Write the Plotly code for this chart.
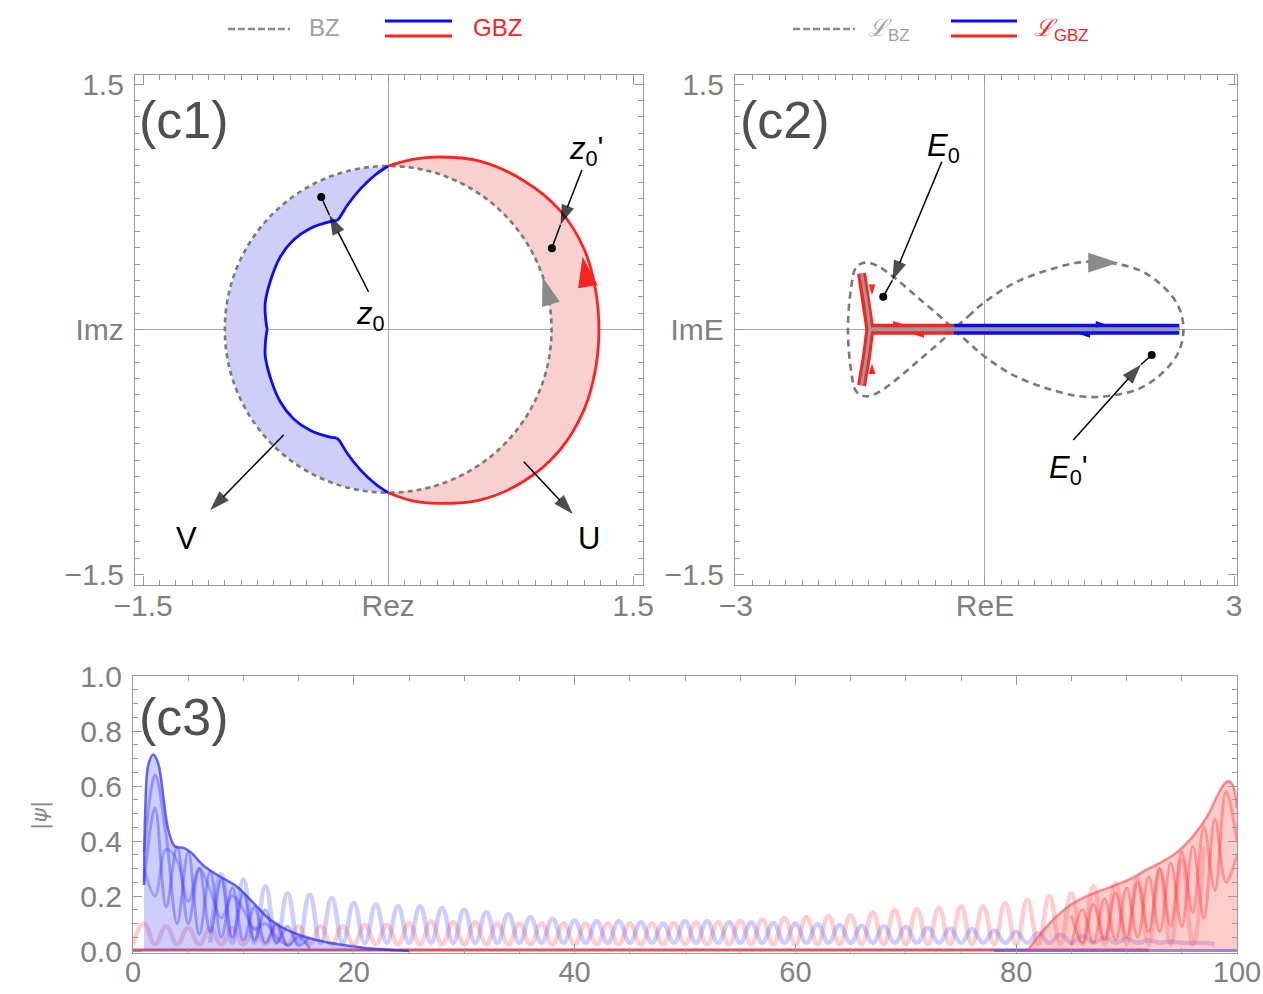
import plotly.graph_objects as go

W, H = 1263, 994


def px(x):
    return x / W


def py(y):
    return 1 - y / H


# ---------------- panel (c1): complex z plane ----------------
# BZ (unit circle), read every 10 degrees, starting at top going counter-clockwise
bz_x = [0, -0.174, -0.342, -0.5, -0.643, -0.766, -0.866, -0.940, -0.985, -1.0,
        -0.985, -0.940, -0.866, -0.766, -0.643, -0.5, -0.342, -0.174, 0,
        0.174, 0.342, 0.5, 0.643, 0.766, 0.866, 0.940, 0.985, 1.0,
        0.985, 0.940, 0.866, 0.766, 0.643, 0.5, 0.342, 0.174, 0]
bz_y = [1.0, 0.985, 0.940, 0.866, 0.766, 0.643, 0.5, 0.342, 0.174, 0,
        -0.174, -0.342, -0.5, -0.643, -0.766, -0.866, -0.940, -0.985, -1.0,
        -0.985, -0.940, -0.866, -0.766, -0.643, -0.5, -0.342, -0.174, 0,
        0.174, 0.342, 0.5, 0.643, 0.766, 0.866, 0.940, 0.985, 1.0]

# GBZ blue branch (left), four arcs separated by cusps
gbz_blue_x = [0, -0.08, -0.17, -0.25, -0.30, -0.315, None,
              -0.315, -0.355, -0.478, -0.58, -0.66, -0.72, -0.753, -0.747, -0.74, None,
              -0.74, -0.747, -0.753, -0.72, -0.66, -0.58, -0.478, -0.355, -0.315, None,
              -0.315, -0.30, -0.25, -0.17, -0.08, 0]
gbz_blue_y = [1.0, 0.945, 0.86, 0.76, 0.68, 0.665, None,
              0.665, 0.66, 0.618, 0.547, 0.445, 0.30, 0.16, 0.037, 0, None,
              0, -0.037, -0.16, -0.30, -0.445, -0.547, -0.618, -0.66, -0.665, None,
              -0.665, -0.68, -0.76, -0.86, -0.945, -1.0]

# GBZ red branch (right)
gbz_red_x = [0, 0.15, 0.30, 0.56, 0.83, 1.05, 1.20, 1.27, 1.29, 1.27, 1.20, 1.05, 0.83, 0.56, 0.30, 0.15, 0]
gbz_red_y = [1.0, 1.04, 1.055, 1.03, 0.91, 0.73, 0.49, 0.24, 0, -0.24, -0.49, -0.74, -0.93, -1.045, -1.065, -1.05, -1.0]

z0 = (-0.41, 0.81)
z0p = (1.002, 0.496)

# ---------------- panel (c2): complex E plane ----------------
lbz_x = [-0.38, -0.20, -0.02, 0.34, 0.74, 1.14, 1.46, 1.87, 2.15, 2.33, 2.39,
         2.33, 2.15, 1.87, 1.46, 1.14, 0.74, 0.34, -0.02, -0.20, -0.38,
         -0.50, -0.82, -1.10, -1.30, -1.44, -1.55, -1.61, -1.65,
         -1.61, -1.55, -1.44, -1.30, -1.10, -0.82, -0.50, -0.38]
lbz_y = [0, 0.08, 0.16, 0.28, 0.36, 0.41, 0.41, 0.36, 0.26, 0.14, 0,
         -0.14, -0.26, -0.36, -0.41, -0.41, -0.36, -0.28, -0.16, -0.08, 0,
         0.06, 0.20, 0.32, 0.39, 0.41, 0.38, 0.26, 0,
         -0.26, -0.38, -0.41, -0.39, -0.32, -0.20, -0.06, 0]

lgbz_red_arm_x = [-1.486, -1.425, -1.386, -1.425, -1.486]
lgbz_red_arm_y = [0.343, 0.16, 0, -0.16, -0.343]
lgbz_red_bar_x = [-1.386, -0.38]
lgbz_blue_bar_x = [-0.38, 2.34]

E0 = (-1.225, 0.20)
E0p = (2.008, -0.157)

# ---------------- panel (c3): |psi| vs site ----------------
blue_env_x = [1.0, 1.1, 1.4, 1.85, 2.3, 2.75, 3.2, 3.8, 4.6, 5.3, 6.4, 7.9, 9.4, 10.9, 12.4, 13.9, 15.4, 17.8, 20.9, 25.0]
blue_env_y = [0.24, 0.50, 0.68, 0.715, 0.68, 0.56, 0.44, 0.38, 0.375, 0.357, 0.31, 0.27, 0.235, 0.175, 0.115, 0.078, 0.054, 0.03, 0.012, 0.0]

blue_fan1 = [0.25, 0.52, 0.16, 0.38, 0.10, 0.30, 0.07, 0.26, 0.05, 0.21, 0.04, 0.15, 0.03, 0.09, 0.02, 0.05]
blue_fan2 = [0.36, 0.64, 0.42, 0.10, 0.36, 0.06, 0.29, 0.05, 0.23, 0.04, 0.16, 0.03, 0.10, 0.02, 0.05, 0.01]
blue_fan3 = [0.30, 0.20, 0.37, 0.33, 0.18, 0.30, 0.22, 0.12, 0.20, 0.15, 0.08, 0.10, 0.05, 0.02]

blue_peak_sites = list(range(8, 100, 2))
blue_peak_vals = [0.28, 0.26, 0.236, 0.21, 0.205, 0.193, 0.175, 0.169, 0.163, 0.163,
                  0.157, 0.151, 0.141, 0.135, 0.124, 0.117, 0.111, 0.108, 0.108, 0.105,
                  0.10, 0.108, 0.108, 0.105, 0.105, 0.102, 0.10, 0.098, 0.095, 0.092,
                  0.09, 0.088, 0.085, 0.082, 0.08, 0.075, 0.07, 0.065, 0.06, 0.055,
                  0.05, 0.045, 0.04, 0.035, 0.03, 0.025]
blue_trough = 0.03

red_peak_sites = list(range(1, 99, 2))
red_peak_vals = [0.10, 0.09, 0.085, 0.085, 0.085, 0.085, 0.085, 0.09, 0.09, 0.09,
                 0.095, 0.095, 0.10, 0.108, 0.105, 0.105, 0.10, 0.10, 0.10, 0.10,
                 0.10, 0.10, 0.10, 0.10, 0.102, 0.105, 0.105, 0.11, 0.115, 0.12,
                 0.124, 0.127, 0.13, 0.141, 0.148, 0.153, 0.157, 0.163, 0.163, 0.175,
                 0.187, 0.20, 0.21, 0.236, 0.248, 0.266, 0.296, 0.33, 0.38]
red_trough = 0.025

red_env_x = [81, 83, 85, 87, 89, 90.5, 91.8, 93, 94.5, 96, 97.3, 98.2, 98.8, 99.2, 99.6, 100]
red_env_y = [0.0, 0.10, 0.17, 0.21, 0.24, 0.265, 0.296, 0.32, 0.357, 0.417, 0.49, 0.563, 0.605, 0.617, 0.605, 0.52]
red_fan1 = [0.02, 0.15, 0.03, 0.19, 0.04, 0.23, 0.05, 0.27, 0.07, 0.32, 0.09, 0.38, 0.12, 0.48, 0.25, 0.35]
red_fan2 = [0.13, 0.03, 0.17, 0.04, 0.21, 0.05, 0.25, 0.07, 0.30, 0.09, 0.36, 0.14, 0.45, 0.22, 0.58, 0.40]

BLUE = '#0a0aff'
RED = '#ff2222'
GRAY = '#7a7a7a'

fig = go.Figure()

# ---- c1 fills ----
fig.add_trace(go.Scatter(x=bz_x[:19] + [v for v in gbz_blue_x[::-1] if v is not None],
                         y=bz_y[:19] + [v for v in gbz_blue_y[::-1] if v is not None],
                         fill='toself', fillcolor='rgb(206,206,248)', line=dict(width=0),
                         mode='lines', xaxis='x', yaxis='y', hoverinfo='skip'))
fig.add_trace(go.Scatter(x=bz_x[18:] + gbz_red_x, y=bz_y[18:] + gbz_red_y,
                         fill='toself', fillcolor='rgb(249,208,208)', line=dict(width=0),
                         mode='lines', xaxis='x', yaxis='y', hoverinfo='skip'))
fig.add_trace(go.Scatter(x=bz_x, y=bz_y, mode='lines', xaxis='x', yaxis='y',
                         line=dict(color=GRAY, width=2.6, dash='5px,4px', shape='spline')))
fig.add_trace(go.Scatter(x=gbz_blue_x, y=gbz_blue_y, mode='lines', xaxis='x', yaxis='y',
                         connectgaps=False, line=dict(color=BLUE, width=2.8, shape='spline')))
fig.add_trace(go.Scatter(x=gbz_red_x, y=gbz_red_y, mode='lines', xaxis='x', yaxis='y',
                         line=dict(color=RED, width=2.8, shape='spline')))
# direction arrows on curves
fig.add_trace(go.Scatter(x=[0.945], y=[0.32], mode='markers', xaxis='x', yaxis='y',
                         marker=dict(symbol='arrow', size=30, angle=-17, color='#8a8a8a', line=dict(width=0))))
fig.add_trace(go.Scatter(x=[1.19], y=[0.445], mode='markers', xaxis='x', yaxis='y',
                         marker=dict(symbol='arrow', size=32, angle=-10, color=RED, line=dict(width=0))))


def pointer(tail, tip, dot, xa, ya):
    fig.add_trace(go.Scatter(x=[tail[0], tip[0]], y=[tail[1], tip[1]], mode='lines+markers', xaxis=xa, yaxis=ya,
                             line=dict(color='black', width=1.5),
                             marker=dict(symbol='arrow', size=[0, 21], angleref='previous', standoff=0,
                                         color='black', line=dict(width=0))))
    if dot is not None:
        fig.add_trace(go.Scatter(x=[tip[0], dot[0]], y=[tip[1], dot[1]], mode='lines', xaxis=xa, yaxis=ya,
                                 line=dict(color='black', width=1.5)))
        fig.add_trace(go.Scatter(x=[dot[0]], y=[dot[1]], mode='markers', xaxis=xa, yaxis=ya,
                                 marker=dict(color='black', size=8)))


pointer((-0.12, 0.23), (-0.36, 0.70), z0, 'x', 'y')
pointer((1.186, 0.975), (1.055, 0.64), z0p, 'x', 'y')
pointer((-0.64, -0.647), (-1.09, -1.107), None, 'x', 'y')
pointer((0.83, -0.81), (1.13, -1.13), None, 'x', 'y')

# ---- c2 ----
fig.add_trace(go.Scatter(x=lbz_x, y=lbz_y, mode='lines', xaxis='x2', yaxis='y2',
                         line=dict(color=GRAY, width=2.6, dash='7px,5px', shape='spline')))
fig.add_trace(go.Scatter(x=lgbz_red_arm_x, y=lgbz_red_arm_y, mode='lines', xaxis='x2', yaxis='y2',
                         line=dict(color=RED, width=9)))
fig.add_trace(go.Scatter(x=lgbz_red_bar_x, y=[0, 0], mode='lines', xaxis='x2', yaxis='y2',
                         line=dict(color=RED, width=11)))
fig.add_trace(go.Scatter(x=lgbz_blue_bar_x, y=[0, 0], mode='lines', xaxis='x2', yaxis='y2',
                         line=dict(color=BLUE, width=11)))
fig.add_trace(go.Scatter(x=lgbz_red_arm_x, y=lgbz_red_arm_y, mode='lines', xaxis='x2', yaxis='y2',
                         line=dict(color='#9a9a9a', width=3)))
fig.add_trace(go.Scatter(x=[lgbz_red_bar_x[0], lgbz_blue_bar_x[1]], y=[0, 0], mode='lines', xaxis='x2', yaxis='y2',
                         line=dict(color='#9a9a9a', width=4)))
fig.add_trace(go.Scatter(x=[1.61], y=[0.408], mode='markers', xaxis='x2', yaxis='y2',
                         marker=dict(symbol='arrow', size=32, angle=90, color='#8a8a8a', line=dict(width=0))))
fig.add_trace(go.Scatter(x=[-0.98, -0.86, -1.36, -1.36], y=[0.03, -0.03, 0.21, -0.21], mode='markers',
                         xaxis='x2', yaxis='y2',
                         marker=dict(symbol='arrow', size=11, angle=[90, 270, 180, 0], color=RED, line=dict(width=0))))
fig.add_trace(go.Scatter(x=[1.46, 1.14], y=[0.03, -0.03], mode='markers', xaxis='x2', yaxis='y2',
                         marker=dict(symbol='arrow', size=11, angle=[90, 270], color=BLUE, line=dict(width=0))))
pointer((-0.52, 1.026), (-1.115, 0.30), E0, 'x2', 'y2')
pointer((1.064, -0.678), (1.88, -0.215), E0p, 'x2', 'y2')

# ---- c3 ----
def zig(sites, vals, low):
    xs, ys = [], []
    for s, v in zip(sites, vals):
        xs += [s - 1, s]
        ys += [low, v]
    return xs, ys


rx, ry = zig(red_peak_sites, red_peak_vals, red_trough)
bx, by = zig(blue_peak_sites, blue_peak_vals, blue_trough)
fig.add_trace(go.Scatter(x=[0, 92], y=[0.004, 0.004], mode='lines', xaxis='x3', yaxis='y3',
                         line=dict(color='rgba(220,40,60,0.8)', width=3)))
fig.add_trace(go.Scatter(x=[78, 100], y=[0.002, 0.002], mode='lines', xaxis='x3', yaxis='y3',
                         line=dict(color='rgba(90,90,255,0.7)', width=3)))
fig.add_trace(go.Scatter(x=rx, y=ry, mode='lines', xaxis='x3', yaxis='y3',
                         line=dict(color='rgba(255,90,90,0.3)', width=4.5, shape='spline', smoothing=1.3)))
fig.add_trace(go.Scatter(x=bx, y=by, mode='lines', xaxis='x3', yaxis='y3',
                         line=dict(color='rgba(90,90,255,0.3)', width=4.5, shape='spline', smoothing=1.3)))
fig.add_trace(go.Scatter(x=red_env_x, y=red_env_y, mode='lines', xaxis='x3', yaxis='y3', fill='tozeroy',
                         fillcolor='rgba(255,100,100,0.33)',
                         line=dict(color='rgba(255,70,70,0.6)', width=2.5, shape='spline')))
fig.add_trace(go.Scatter(x=list(range(85, 101)), y=red_fan1, mode='lines', xaxis='x3', yaxis='y3',
                         line=dict(color='rgba(255,60,60,0.4)', width=3, shape='spline')))
fig.add_trace(go.Scatter(x=list(range(85, 101)), y=red_fan2, mode='lines', xaxis='x3', yaxis='y3',
                         line=dict(color='rgba(255,60,60,0.4)', width=3, shape='spline')))
fig.add_trace(go.Scatter(x=blue_env_x, y=blue_env_y, mode='lines', xaxis='x3', yaxis='y3', fill='tozeroy',
                         fillcolor='rgba(90,90,255,0.3)',
                         line=dict(color='rgba(40,40,240,0.7)', width=2.5, shape='spline')))
fig.add_trace(go.Scatter(x=list(range(1, 17)), y=blue_fan1, mode='lines', xaxis='x3', yaxis='y3',
                         line=dict(color='rgba(60,60,255,0.4)', width=3, shape='spline')))
fig.add_trace(go.Scatter(x=list(range(1, 17)), y=blue_fan2, mode='lines', xaxis='x3', yaxis='y3',
                         line=dict(color='rgba(60,60,255,0.4)', width=3, shape='spline')))
fig.add_trace(go.Scatter(x=list(range(1, 15)), y=blue_fan3, mode='lines', xaxis='x3', yaxis='y3',
                         line=dict(color='rgba(60,60,255,0.35)', width=3, shape='spline')))

# ---------------- axes ----------------
TICKFONT = dict(family='Liberation Sans, Arial, sans-serif', size=30, color='#808080')
FRAME = '#9a9a9a'


def axis(domain, rng, tickvals, ticktext, minor_vals, zeroline=True, anchor=None, standoff=0, fsize=30):
    return dict(domain=domain, range=rng, anchor=anchor, automargin=False, showgrid=False, showline=True,
                linecolor=FRAME, linewidth=1.3, mirror='allticks', ticks='inside', ticklen=9,
                tickwidth=1.2, tickcolor=FRAME, tickmode='array', tickvals=tickvals, ticktext=ticktext,
                tickfont=dict(TICKFONT, size=fsize), zeroline=zeroline, zerolinecolor='#a8a8a8',
                zerolinewidth=1.2, ticklabelstandoff=standoff,
                minor=dict(ticks='inside', ticklen=5, tickwidth=1, tickcolor=FRAME, tickmode='array',
                           tickvals=minor_vals, showgrid=False),
                fixedrange=True)


m01 = [round(-1.5 + 0.1 * i, 2) for i in range(31)]
m2x = [round(-3 + 0.2 * i, 2) for i in range(31)]
m3x = list(range(0, 101, 5))
m3y = [round(0.05 * i, 2) for i in range(21)]

dom1x = [px(135), px(643)]
dom2x = [px(735), px(1237)]
domy12 = [py(585), py(75)]

fig.update_layout(
    template=None,
    width=W, height=H, margin=dict(l=0, r=0, t=0, b=0, autoexpand=False), paper_bgcolor='white',
    plot_bgcolor='white', showlegend=False,
    xaxis=axis(dom1x, [-1.55, 1.56], [-1.5, 0, 1.5], ['\u22121.5', 'Rez', '1.5'], m01, anchor='y',
               standoff=-6),
    yaxis=axis(domy12, [-1.565, 1.557], [-1.5, 0, 1.5], ['\u22121.5', 'Imz', '1.5'], m01, anchor='x',
               standoff=4),
    xaxis2=axis(dom2x, [-3.01, 3.035], [-3, 0, 3], ['\u22123', 'ReE', '3'], m2x, anchor='y2', standoff=-6),
    yaxis2=axis(domy12, [-1.565, 1.557], [-1.5, 0, 1.5], ['\u22121.5', 'ImE', '1.5'], m01, anchor='x2',
                standoff=4),
    xaxis3=axis([px(133), px(1237)], [0, 100], [0, 20, 40, 60, 80, 100],
                ['0', '20', '40', '60', '80', '100'], m3x, zeroline=False, anchor='y3', standoff=-7, fsize=29),
    yaxis3=axis([py(953), py(676)], [-0.007, 1.0], [0, 0.2, 0.4, 0.6, 0.8, 1.0],
                ['0.0', '0.2', '0.4', '0.6', '0.8', '1.0'], m3y, zeroline=False, anchor='x3', standoff=4),
)

# ---------------- annotations ----------------
ann = []
C = dict(xanchor='center', yanchor='middle', showarrow=False)
LBL = dict(family='Liberation Sans, Arial, sans-serif', size=52, color='#505050')
for txt, x, y in [('(c1)', 184, 120), ('(c2)', 785, 120), ('(c3)', 184, 717)]:
    ann.append(dict(C, text=txt, x=px(x), y=py(y), xref='paper', yref='paper', font=LBL))

TXT = dict(family='Liberation Sans, Arial, sans-serif', size=31, color='black')
for txt, x, y, xr, yr in [('<i>z</i><sub>0</sub>', -0.11, 0.08, 'x', 'y'),
                          ("<i>z</i><sub>0</sub>'", 1.21, 1.09, 'x', 'y'),
                          ('V', -1.237, -1.278, 'x', 'y'),
                          ('U', 1.23, -1.278, 'x', 'y'),
                          ('<i>E</i><sub>0</sub>', -0.50, 1.11, 'x2', 'y2'),
                          ("<i>E</i><sub>0</sub>'", 1.0, -0.86, 'x2', 'y2')]:
    ann.append(dict(C, text=txt, x=x, y=y, xref=xr, yref=yr, font=TXT))

ann.append(dict(C, text='|<i>\u03c8</i>|', x=px(40), y=py(815), xref='paper', yref='paper',
                textangle=-90, font=dict(family='DejaVu Sans, sans-serif', size=22, color='#888888')))

LEG = dict(family='Liberation Sans, Arial, sans-serif', size=24)
ann += [
    dict(C, text='BZ', x=px(324), y=py(28), xref='paper', yref='paper', font=dict(LEG, color='#a0a0a0')),
    dict(C, text='GBZ', x=px(497), y=py(28), xref='paper', yref='paper', font=dict(LEG, color=RED)),
    dict(C, text='<i>\u2112</i><sub>BZ</sub>', x=px(888), y=py(30), xref='paper', yref='paper',
         font=dict(LEG, color='#a0a0a0')),
    dict(C, text='<i>\u2112</i><sub>GBZ</sub>', x=px(1061), y=py(30), xref='paper', yref='paper',
         font=dict(LEG, color=RED)),
]

shapes = []
for x0, x1 in [(228, 290), (793, 855)]:
    shapes.append(dict(type='line', xref='paper', yref='paper', x0=px(x0), x1=px(x1), y0=py(29), y1=py(29),
                       line=dict(color='#8a8a8a', width=2.5, dash='7px,3px')))
for x0, x1 in [(385, 452), (951, 1017)]:
    shapes.append(dict(type='line', xref='paper', yref='paper', x0=px(x0), x1=px(x1), y0=py(21), y1=py(21),
                       line=dict(color=BLUE, width=3)))
    shapes.append(dict(type='line', xref='paper', yref='paper', x0=px(x0), x1=px(x1), y0=py(36), y1=py(36),
                       line=dict(color=RED, width=3)))

fig.update_layout(annotations=ann, shapes=shapes)

fig.write_html('out.html')
